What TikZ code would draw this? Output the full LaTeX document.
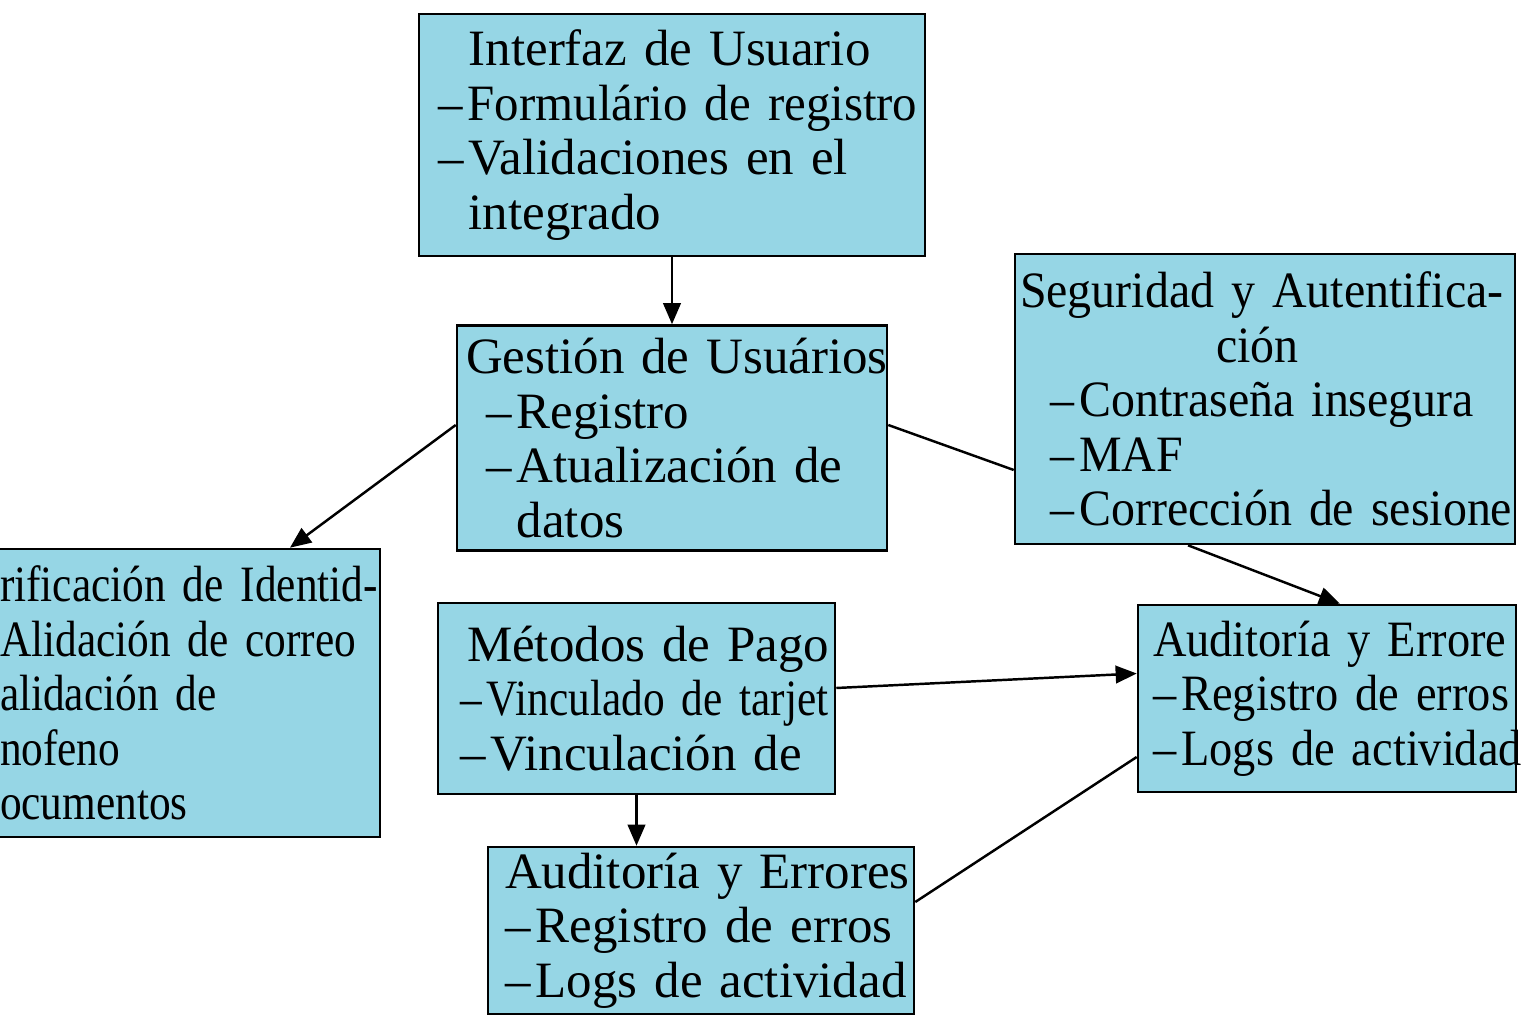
\documentclass[tikz,border=0pt]{standalone}
\usepackage{fontspec}
\setmainfont{Liberation Serif}[WordSpace=0.8]
\newfontfamily\nrwa{Liberation Serif}[FakeStretch=0.85, WordSpace=0.8]
\newfontfamily\nrwb{Liberation Serif}[FakeStretch=0.94, WordSpace=0.8]
\newfontfamily\nrwc{Liberation Serif}[FakeStretch=0.91, WordSpace=0.8]
\newfontfamily\nrwd{Liberation Serif}[FakeStretch=0.96, WordSpace=0.8]
\usepackage{xcolor}
\usetikzlibrary{arrows.meta}
\definecolor{boxblue}{RGB}{150,214,229}
\hyphenpenalty=10000
\exhyphenpenalty=10000

\begin{document}
\begin{tikzpicture}[x=0.02cm, y=-0.02cm,
    blk/.style = {draw=black, fill=boxblue, line width=1.5pt,
                inner ysep=0pt, align=left,
                font=\fontsize{29}{31}\selectfont},
    con/.style = {black, line width=1.4pt},
    arr/.style = {con, -{Triangle[length=12pt,width=10pt]}}  % filled tip
                    ]
    \def\dsh{–\kern3pt}
    \useasboundingbox (0,0) rectangle (1536,1024);
    \node[blk, minimum width=10.12cm, minimum height=4.84cm, inner xsep=0.38cm, text width=9.36cm] at (672,135) (ui)
        {\hphantom{\dsh}Interfaz~de~Usuario\\ {\nrwd\dsh Formulário~de~registro}\\ \dsh Validaciones~en~el\\ \hphantom{\dsh}integrado};
    \node[blk, minimum width=8.6cm, minimum height=4.5cm, inner xsep=0.18cm, text width=8.24cm] at (672,438) (gu)
        {Gestión~de~Usuários\\ \hspace*{0.4cm}\dsh Registro\\ \hspace*{0.4cm}\dsh Atualización~de\\ \hspace*{0.4cm}\hphantom{\dsh}datos};
    \node[blk, font=\fontsize{29}{31}\selectfont\nrwb, minimum width=10cm, minimum height=5.8cm, inner xsep=0.1cm, text width=9.8cm] at (1265,399) (sa)
        {Seguridad~y~Autentifica-\\ \hspace*{3.92cm}ción\\ \hspace*{0.6cm}\dsh Contraseña~insegura\\ \hspace*{0.6cm}\dsh MAF\\ \hspace*{0.6cm}\dsh Corrección~de~sesione};
    \node[blk, font=\fontsize{29}{31}\selectfont\nrwa, minimum width=8.4cm, minimum height=5.76cm, inner xsep=0.8cm, text width=6.8cm] at (170,693) (vi)
        {rificación~de~Identid-\\ Alidación~de~correo\\ alidación~de\\ nofeno\\ ocumentos};
    \node[blk, minimum width=7.94cm, minimum height=3.82cm, inner xsep=0.44cm, text width=7.06cm] at (636.5,698.5) (mp)
        {\hspace*{0.14cm}Métodos~de~Pago\\ {\nrwa\dsh Vinculado~de~tarjet}\\ \dsh Vinculación~de};
    \node[blk, font=\fontsize{29}{31}\selectfont\nrwc, minimum width=7.56cm, minimum height=3.74cm, inner xsep=0.3cm, text width=6.96cm] at (1327,698.5) (ae)
        {Auditoría~y~Errore\\ \dsh Registro~de~erros\\ \dsh Logs~de~actividad};
    \node[blk, minimum width=8.52cm, minimum height=3.34cm, inner xsep=0.34cm, text width=7.84cm] at (701,930.5) (ab)
        {Auditoría~y~Errores\\ \dsh Registro~de~erros\\ \dsh Logs~de~actividad};
    \draw [arr] (ui) -- (gu);
    \draw [arr] ([yshift=0.26cm]gu.west) -- ([xshift=2.4cm]vi.north);
    \draw [con] ([yshift=0.26cm]gu.east) -- ([yshift=-1.42cm]sa.west);
    \draw [arr] ([xshift=-1.54cm]sa.south) -- ([xshift=0.26cm]ae.north);
    \draw [arr] ([yshift=0.21cm]mp.east) -- ([yshift=0.5cm]ae.west);
    \draw [arr] (mp.south) -- (mp.south |- ab.north);
    \draw [con] ([yshift=0.57cm]ab.east) -- ([yshift=-1.17cm]ae.west);
\end{tikzpicture}
\end{document}
